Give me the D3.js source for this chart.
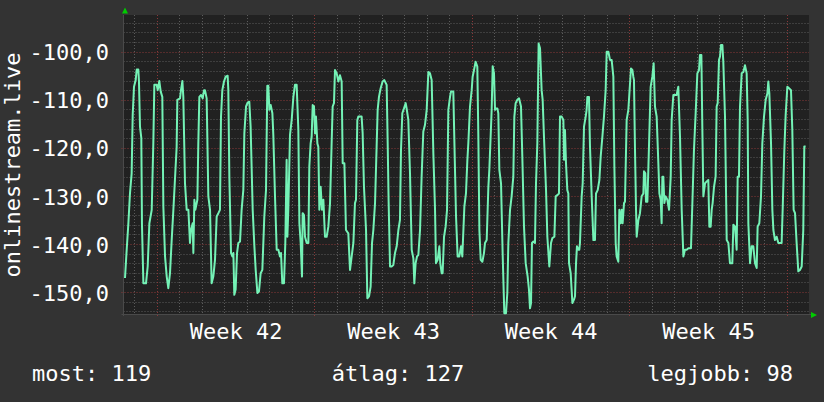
<!DOCTYPE html>
<html><head><meta charset="utf-8">
<script src="https://cdn.jsdelivr.net/npm/d3@7"></script>
<style>
html,body{margin:0;padding:0;background:#333333;}
svg{display:block;}
text{font-family:"DejaVu Sans Mono",monospace;fill:#ffffff;}
</style></head><body>
<svg id="c" width="824" height="402"></svg>
<script>
// ---- data (hours since the left edge of the graph, value) ----
const startTime = "2024-10-12T12:30:00Z";
const spanHours = 731.2;
const hours = [1.6,3.4,5.2,6.9,8.7,9.8,11.2,13.0,14.1,15.8,16.5,17.6,19.0,19.7,21.2,24.0,25.8,27.6,30.1,31.8,32.9,35.4,36.5,38.2,39.7,41.4,42.5,44.3,46.1,47.8,49.6,51.4,53.2,56.7,57.4,60.3,61.3,62.8,63.8,65.6,67.4,69.2,70.9,72.0,73.8,74.5,75.6,76.6,78.8,79.8,80.9,82.7,84.5,85.9,86.9,88.7,90.5,92.3,94.0,95.8,97.6,99.4,101.2,102.9,104.0,105.4,107.2,109.0,111.1,111.8,112.9,114.7,116.1,117.2,118.2,119.6,121.1,122.5,124.3,126.0,127.8,128.9,130.7,132.4,134.2,135.6,137.8,139.6,141.0,142.8,144.5,146.3,148.1,150.2,152.0,153.4,154.5,155.6,157.0,158.8,159.8,161.6,163.4,165.2,166.9,168.0,169.4,171.2,172.6,174.0,174.8,175.8,177.6,179.4,181.2,182.9,184.7,186.5,187.6,189.0,190.4,191.1,192.5,193.6,195.4,197.2,198.2,199.6,200.7,201.8,203.2,204.3,205.3,206.8,207.8,208.9,210.3,211.7,213.2,214.9,216.7,218.5,220.3,222.0,223.1,224.5,225.6,227.4,229.2,230.9,232.7,233.8,235.6,237.3,239.8,241.6,243.4,245.2,246.9,248.0,249.4,250.5,254.0,255.1,256.5,258.7,260.1,261.9,263.6,265.1,266.5,268.3,271.1,272.5,274.3,276.4,278.2,280.7,281.8,282.8,284.3,286.0,287.8,289.6,291.4,293.2,294.9,296.0,297.4,299.2,301.0,302.0,303.8,305.6,307.4,309.2,310.2,311.6,313.1,314.5,316.3,318.0,319.8,321.6,323.4,325.2,326.9,328.7,330.5,332.3,333.3,335.1,336.9,337.9,339.4,340.4,341.9,343.6,345.1,346.5,348.3,349.3,351.8,352.9,354.7,356.4,358.2,360.0,361.4,363.6,365.3,366.8,367.8,369.6,371.4,372.4,373.9,375.6,377.4,378.5,379.6,381.0,382.8,384.5,385.6,387.4,389.2,390.2,391.6,392.7,393.8,395.2,396.3,397.3,398.8,399.8,400.9,402.7,404.4,406.2,408.0,409.4,410.5,412.3,414.0,415.8,416.9,418.3,420.1,421.9,424.0,425.4,427.2,429.0,431.1,432.5,433.6,434.7,435.7,437.2,438.9,440.0,441.4,442.8,444.3,446.0,447.1,448.5,450.7,452.1,454.2,456.0,457.4,459.6,461.0,463.1,464.5,465.6,467.4,469.2,469.9,470.9,472.0,473.4,474.5,475.2,477.0,478.8,480.5,481.6,482.7,483.7,485.2,486.2,486.9,488.7,489.8,491.2,493.0,494.0,494.8,496.5,497.6,499.4,501.2,502.9,504.0,505.8,507.6,509.0,510.8,512.5,514.3,515.4,517.2,518.9,520.7,522.5,523.6,525.0,526.0,527.8,528.9,530.3,531.4,532.4,533.9,534.9,536.7,538.5,539.6,541.3,542.8,543.8,544.5,545.6,546.7,547.4,549.2,550.9,552.7,554.5,555.2,556.6,557.3,558.8,559.8,561.6,562.3,564.1,565.5,566.9,568.7,570.5,571.6,573.0,574.0,574.8,575.8,576.9,578.3,580.1,581.9,583.7,584.7,586.5,590.0,591.8,593.6,595.4,597.2,598.9,600.7,602.5,605.3,606.8,608.5,610.3,612.1,613.9,614.9,616.4,617.4,618.5,620.3,622.1,623.8,624.9,626.3,627.4,628.4,629.9,631.6,632.7,633.8,635.2,636.3,637.3,638.8,639.8,641.6,643.4,645.2,646.9,649.4,650.5,652.3,654.0,655.1,656.5,657.6,659.4,661.2,662.9,664.7,665.8,666.5,668.3,670.0,671.8,673.6,675.4,676.4,678.2,680.0,681.4,683.2,685.0,686.8,687.8,688.9,690.7,692.1,693.2,694.9,696.7,698.5,702.0,703.1,704.9,706.3,708.1,709.9,712.0,713.4,714.8,716.3,718.0,719.8,721.6,723.4,725.1,726.2,727.6];
const values = [-147.1,-141.2,-135.7,-129.5,-125.3,-113.2,-107.3,-105.9,-103.7,-103.7,-106.2,-115.6,-118.0,-136.0,-148.2,-148.2,-144.7,-135.7,-132.9,-119.1,-106.9,-106.9,-108.0,-106.1,-108.3,-109.4,-132.2,-142.6,-146.8,-149.2,-146.1,-139.2,-132.9,-119.8,-110.0,-109.7,-108.0,-106.1,-109.4,-127.4,-132.9,-132.9,-139.8,-137.1,-135.7,-141.9,-130.8,-132.9,-130.8,-119.1,-109.4,-109.0,-109.7,-108.0,-108.0,-109.7,-130.1,-132.9,-148.2,-146.8,-143.3,-134.3,-133.6,-132.9,-113.5,-108.0,-106.2,-105.2,-105.0,-108.0,-126.0,-141.9,-142.6,-141.9,-150.6,-149.5,-141.9,-139.8,-139.5,-132.9,-128.8,-117.0,-111.4,-110.6,-110.4,-115.6,-132.9,-140.5,-145.4,-150.2,-149.9,-146.1,-145.4,-134.3,-128.8,-107.1,-107.1,-112.1,-111.1,-112.8,-117.3,-130.1,-141.2,-141.2,-142.6,-141.9,-148.2,-148.2,-139.8,-122.5,-138.5,-132.9,-117.3,-114.2,-109.4,-106.9,-106.9,-116.3,-135.7,-139.8,-146.8,-133.6,-134.0,-138.5,-139.8,-139.8,-123.9,-119.1,-117.7,-111.1,-111.4,-117.0,-113.5,-119.1,-119.8,-132.9,-128.1,-132.9,-130.8,-138.5,-138.5,-136.4,-131.5,-119.1,-111.4,-110.7,-103.8,-104.5,-106.2,-104.9,-106.2,-123.2,-123.2,-137.1,-137.8,-145.4,-142.6,-139.8,-131.5,-130.8,-114.2,-113.5,-113.5,-117.0,-128.1,-137.1,-151.3,-150.9,-148.9,-139.8,-137.1,-131.5,-112.1,-109.4,-107.6,-106.2,-105.9,-106.9,-119.1,-131.2,-144.7,-144.7,-144.4,-141.9,-140.5,-137.1,-135.0,-120.4,-112.8,-111.8,-110.7,-111.8,-114.2,-125.3,-141.2,-143.0,-148.2,-144.0,-142.6,-142.3,-137.1,-126.0,-116.6,-115.2,-112.1,-104.2,-104.5,-105.9,-121.1,-132.9,-144.0,-143.3,-140.5,-144.0,-146.1,-146.1,-138.5,-136.4,-132.9,-112.1,-109.4,-108.3,-108.3,-118.4,-134.3,-142.6,-142.6,-140.5,-142.6,-132.2,-129.5,-122.5,-119.1,-111.4,-108.0,-105.2,-103.8,-102.1,-103.1,-117.7,-137.1,-143.3,-143.7,-141.9,-139.8,-139.2,-128.1,-124.6,-117.7,-112.1,-103.0,-104.5,-112.1,-111.8,-111.8,-112.8,-124.6,-127.4,-141.9,-154.4,-154.4,-150.2,-139.8,-132.9,-130.1,-126.0,-113.5,-110.7,-110.0,-109.7,-111.4,-121.8,-136.4,-144.0,-146.8,-149.5,-153.4,-152.3,-139.8,-139.5,-139.8,-127.4,-119.1,-98.3,-99.3,-108.0,-110.0,-117.7,-128.8,-138.5,-144.7,-139.8,-138.8,-138.5,-130.1,-129.8,-129.5,-113.5,-113.5,-114.2,-122.5,-116.3,-123.2,-128.8,-129.5,-144.0,-146.1,-152.3,-151.6,-150.9,-144.0,-140.5,-141.2,-141.2,-139.8,-130.1,-127.4,-115.6,-113.5,-112.1,-109.4,-109.4,-119.8,-130.1,-139.2,-139.2,-129.5,-128.8,-126.7,-121.8,-117.7,-113.5,-108.0,-100.0,-100.0,-101.7,-101.7,-105.2,-123.9,-139.8,-142.6,-143.7,-132.9,-135.7,-132.9,-135.7,-131.5,-131.2,-114.2,-112.1,-108.7,-103.5,-103.8,-105.2,-105.9,-120.4,-132.9,-138.5,-135.0,-133.6,-130.1,-129.5,-124.9,-125.3,-131.2,-131.2,-124.6,-112.1,-107.3,-105.2,-102.4,-111.4,-113.5,-123.2,-129.5,-130.8,-135.7,-126.0,-126.0,-131.5,-130.1,-130.8,-132.9,-126.0,-114.2,-109.0,-109.0,-107.3,-117.7,-132.9,-142.6,-141.2,-141.2,-140.9,-140.9,-131.5,-120.4,-112.8,-104.5,-103.8,-100.7,-100.7,-115.6,-130.1,-127.4,-127.0,-126.7,-136.4,-136.4,-132.9,-131.5,-128.1,-126.0,-111.4,-110.7,-101.7,-101.0,-98.6,-98.6,-102.1,-113.5,-139.2,-139.8,-144.0,-144.0,-136.0,-136.4,-141.2,-126.0,-126.0,-111.4,-104.5,-104.2,-102.8,-104.5,-114.2,-135.7,-144.0,-140.5,-140.5,-144.0,-145.0,-136.4,-135.7,-130.1,-119.1,-113.5,-110.0,-108.7,-106.2,-108.7,-119.1,-132.9,-137.1,-139.2,-138.5,-139.8,-139.8,-132.9,-120.4,-113.2,-107.3,-107.6,-108.0,-116.3,-132.9,-133.6,-139.8,-145.7,-145.4,-144.7,-137.1,-119.7,-119.7];

const yDomain = [-154.58, -92.36];
const yTicks = [-150, -140, -130, -120, -110, -100];
const weekLabelDates = ["2024-10-17T12:00:00Z", "2024-10-24T12:00:00Z", "2024-10-31T12:00:00Z", "2024-11-07T12:00:00Z"];
const weekLabels = ["Week 42", "Week 43", "Week 44", "Week 45"];
const yTitle = "onlinestream.live";
const summaryLabels = ["most", "átlag", "legjobb"];
const summaryValues = [119, 127, 98];

// ---- layout ----
const L = 123.5, R = 809, T = 15, B = 314;
const svg = d3.select("#c");
const t0 = new Date(startTime);
const t1 = new Date(t0.getTime() + spanHours * 3600e3);
const x = d3.scaleUtc().domain([t0, t1]).range([L, R]);
const y = d3.scaleLinear().domain(yDomain).range([B, T]);
const crisp = v => Math.round(v) + 0.5;

svg.append("rect").attr("width", 824).attr("height", 402).attr("fill", "#333333");
svg.append("rect").attr("x", L).attr("y", T).attr("width", R - L).attr("height", B - T).attr("fill", "#212121");

// minor grid
const grid = svg.append("g");
const days = d3.utcDay.range(t0, t1);
const mondays = d3.utcMonday.range(t0, t1);
grid.selectAll(".vmin").data(days.filter(d => d.getUTCDay() !== 1)).join("line")
  .attr("x1", d => crisp(x(d))).attr("x2", d => crisp(x(d)))
  .attr("y1", T).attr("y2", B)
  .attr("stroke", "#5c5c5c").attr("stroke-dasharray", "1,2");
const hMinor = d3.range(-154, -92, 2).filter(v => v % 10 !== 0);
grid.selectAll(".hmin").data(hMinor).join("line")
  .attr("x1", L).attr("x2", R)
  .attr("y1", d => crisp(y(d))).attr("y2", d => crisp(y(d)))
  .attr("stroke", "#5c5c5c").attr("stroke-dasharray", "1,2");
// major grid
grid.selectAll(".vmaj").data(mondays).join("line")
  .attr("x1", d => crisp(x(d))).attr("x2", d => crisp(x(d)))
  .attr("y1", T).attr("y2", B + 4)
  .attr("stroke", "#8a3838").attr("stroke-dasharray", "1,2");
grid.selectAll(".hmaj").data(yTicks).join("line")
  .attr("x1", L - 2).attr("x2", R)
  .attr("y1", d => crisp(y(d))).attr("y2", d => crisp(y(d)))
  .attr("stroke", "#8a3838").attr("stroke-dasharray", "1,2");

// axes lines
svg.append("line").attr("x1", L - 2).attr("x2", R + 2).attr("y1", B + 0.5).attr("y2", B + 0.5).attr("stroke", "#4a4a4a");
svg.append("line").attr("x1", L).attr("x2", L).attr("y1", T).attr("y2", B + 2).attr("stroke", "#4a4a4a");

// data line
const pts = hours.map((h, i) => [new Date(t0.getTime() + h * 3600e3), values[i]]);
svg.append("path").datum(pts)
  .attr("fill", "none").attr("stroke", "#74f2b6").attr("stroke-width", 2)
  .attr("stroke-linejoin", "round")
  .attr("d", d3.line().x(d => x(d[0])).y(d => y(d[1])));

// arrows
svg.append("path").attr("d", "M122,13.5 L125,7.5 L128,13.5 Z").attr("fill", "#00cc00");
svg.append("path").attr("d", "M811,312 L817,315 L811,318 Z").attr("fill", "#00cc00");

// y axis labels
const fmt = v => v.toFixed(1).replace(".", ",");
const ya = svg.append("g").attr("transform", "translate(109,0)")
  .call(d3.axisLeft(y).tickValues(yTicks).tickSize(0).tickPadding(0).tickFormat(fmt));
ya.select(".domain").remove();
ya.selectAll("text").attr("dy", "0.37em").style("font-size", "22px")
  .style("font-family", "'DejaVu Sans Mono', monospace").attr("fill", "#fff");

// x axis labels
const xa = svg.append("g").attr("transform", "translate(0,339)")
  .call(d3.axisBottom(x).tickValues(weekLabelDates.map(d => new Date(d))).tickSize(0).tickPadding(0)
    .tickFormat((d, i) => weekLabels[i]));
xa.select(".domain").remove();
xa.selectAll("text").attr("y", 0).attr("dy", 0).style("font-size", "22px")
  .style("font-family", "'DejaVu Sans Mono', monospace").attr("fill", "#fff");

// vertical title
svg.append("text").attr("transform", "translate(19.5,165) rotate(-90)")
  .attr("text-anchor", "middle").style("font-size", "22px").text(yTitle);

// summary
const sx = [32, 398, 793], sa = ["start", "middle", "end"];
svg.selectAll(".sum").data(summaryLabels).join("text")
  .attr("x", (d, i) => sx[i]).attr("y", 381).attr("text-anchor", (d, i) => sa[i])
  .style("font-size", "22px").text((d, i) => d + ": " + summaryValues[i]);
</script>
</body></html>
